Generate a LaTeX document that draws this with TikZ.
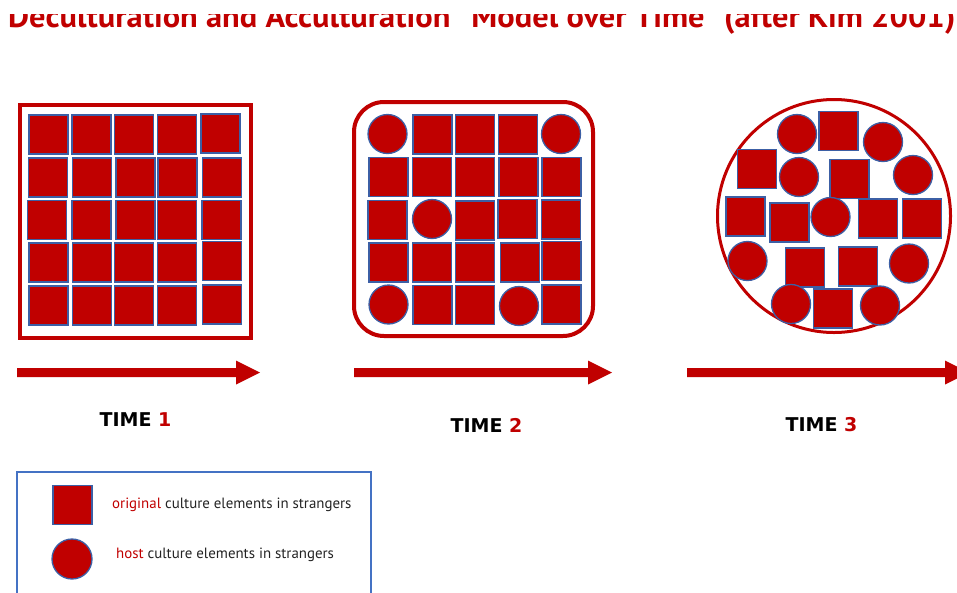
\documentclass[tikz,border=0pt]{standalone}
\usepackage{fontspec}
\setmainfont{PT Sans}
\newfontfamily\djv{DejaVu Sans}
\definecolor{kred}{RGB}{192,0,0}
\definecolor{kblue}{RGB}{60,95,165}
\definecolor{lblue}{RGB}{68,114,196}
\definecolor{ktext}{RGB}{35,35,35}
\newcommand\KSq[2]{\draw[shp] (#1-19.5,#2-19.5) rectangle ++(39,39);}
\newcommand\KCi[2]{\draw[shp] (#1,#2) circle[radius=19.5];}
\newcommand\KArr[4]{\fill[kred] (#1,#4-4.5) -- (#2,#4-4.5) -- (#2,#4-12) -- (#3,#4) -- (#2,#4+12) -- (#2,#4+4.5) -- (#1,#4+4.5) -- cycle;}
\begin{document}
\begin{tikzpicture}[x=1pt,y=-1pt,
  shp/.style={fill=kred,draw=kblue,line width=1.3pt},
  frame/.style={draw=kred,line width=4pt},
  timelbl/.style={font=\djv\bfseries\fontsize{19}{22}\selectfont,inner sep=0pt},
  legtxt/.style={anchor=west,font=\fontsize{14.9}{17}\selectfont,text=ktext,inner sep=0pt}]
\useasboundingbox (0,0) rectangle (957,592);
\clip (0,0) rectangle (957,592);
% title (its upper part is cut off in the reference)
\begin{scope}
\clip (0,14) rectangle (957,40);
\node[anchor=base west,text=kred,inner sep=0pt] (title) at (8,27)
  {\resizebox{947pt}{25pt}{\bfseries Deculturation and Acculturation ``Model over Time'' (after Kim 2001)}};
\end{scope}
% TIME 1
\draw[frame] (20,105) rectangle (251,338);
\KSq{48.5}{134.5}\KSq{91.5}{134.5}\KSq{134}{134.5}\KSq{177}{134.5}\KSq{220.5}{133.5}
\KSq{48}{177.5}\KSq{92}{177.5}\KSq{135.5}{177.5}\KSq{177.5}{177.5}\KSq{222}{177.5}
\KSq{47}{220}\KSq{91.5}{220}\KSq{135.5}{220}\KSq{177}{220}\KSq{221.5}{220}
\KSq{48.5}{262.5}\KSq{92}{262.5}\KSq{134}{262.5}\KSq{177}{262.5}\KSq{222}{261}
\KSq{48.5}{305.5}\KSq{92}{305.5}\KSq{134}{305.5}\KSq{177}{305.5}\KSq{222}{304.5}
% TIME 2
\draw[frame,rounded corners=30pt] (354,102) rectangle (593,336);
\KCi{387.5}{134}\KSq{432.5}{134.5}\KSq{475}{134.5}\KSq{518}{134.5}\KCi{561}{134}
\KSq{388.5}{177}\KSq{432}{177}\KSq{475}{177}\KSq{518.5}{177}\KSq{561.5}{177}
\KSq{387.5}{220}\KCi{432}{219}\KSq{475}{220.5}\KSq{517.5}{219}\KSq{561}{219.5}
\KSq{388.5}{262.5}\KSq{432}{262.5}\KSq{475}{262.5}\KSq{520}{262.5}\KSq{561.5}{261}
\KCi{388.5}{304.5}\KSq{432.5}{305}\KSq{475}{305}\KCi{519}{306}\KSq{561.5}{304.5}
% TIME 3
\draw[draw=kred,line width=3pt] (834,216) circle[radius=116.5];
\KCi{797}{134}\KSq{838.5}{131}\KCi{883}{142}
\KSq{757}{169}\KCi{799}{177}\KSq{849.5}{179}\KCi{913}{175}
\KSq{745.5}{216.5}\KSq{789.5}{222.5}\KCi{830.5}{217}\KSq{878}{218.5}\KSq{922}{218.5}
\KCi{747.5}{261}\KSq{805}{267.5}\KSq{858}{266.5}\KCi{909}{263.5}
\KCi{791}{304}\KSq{833}{308.5}\KCi{880}{305.5}
% arrows
\KArr{17}{236}{260}{372.5}
\KArr{354}{588}{612}{372.5}
\KArr{687}{945}{969}{372.5}
% labels
\node[timelbl] (time1) at (135.5,420) {TIME \textcolor{kred}{1}};
\node[timelbl] (time2) at (486.5,425) {TIME \textcolor{kred}{2}};
\node[timelbl] (time3) at (821.5,425) {TIME \textcolor{kred}{3}};
% legend
\draw[draw=lblue,line width=1.5pt] (17,472) rectangle (371,620);
\KSq{72.5}{505}
\draw[shp] (72,559) circle[radius=20];
\node[legtxt] (leg1) at (112,505) {\textcolor{kred}{original} culture elements in strangers};
\node[legtxt] (leg2) at (116,555) {\textcolor{kred}{host} culture elements in strangers};
\end{tikzpicture}
\end{document}
